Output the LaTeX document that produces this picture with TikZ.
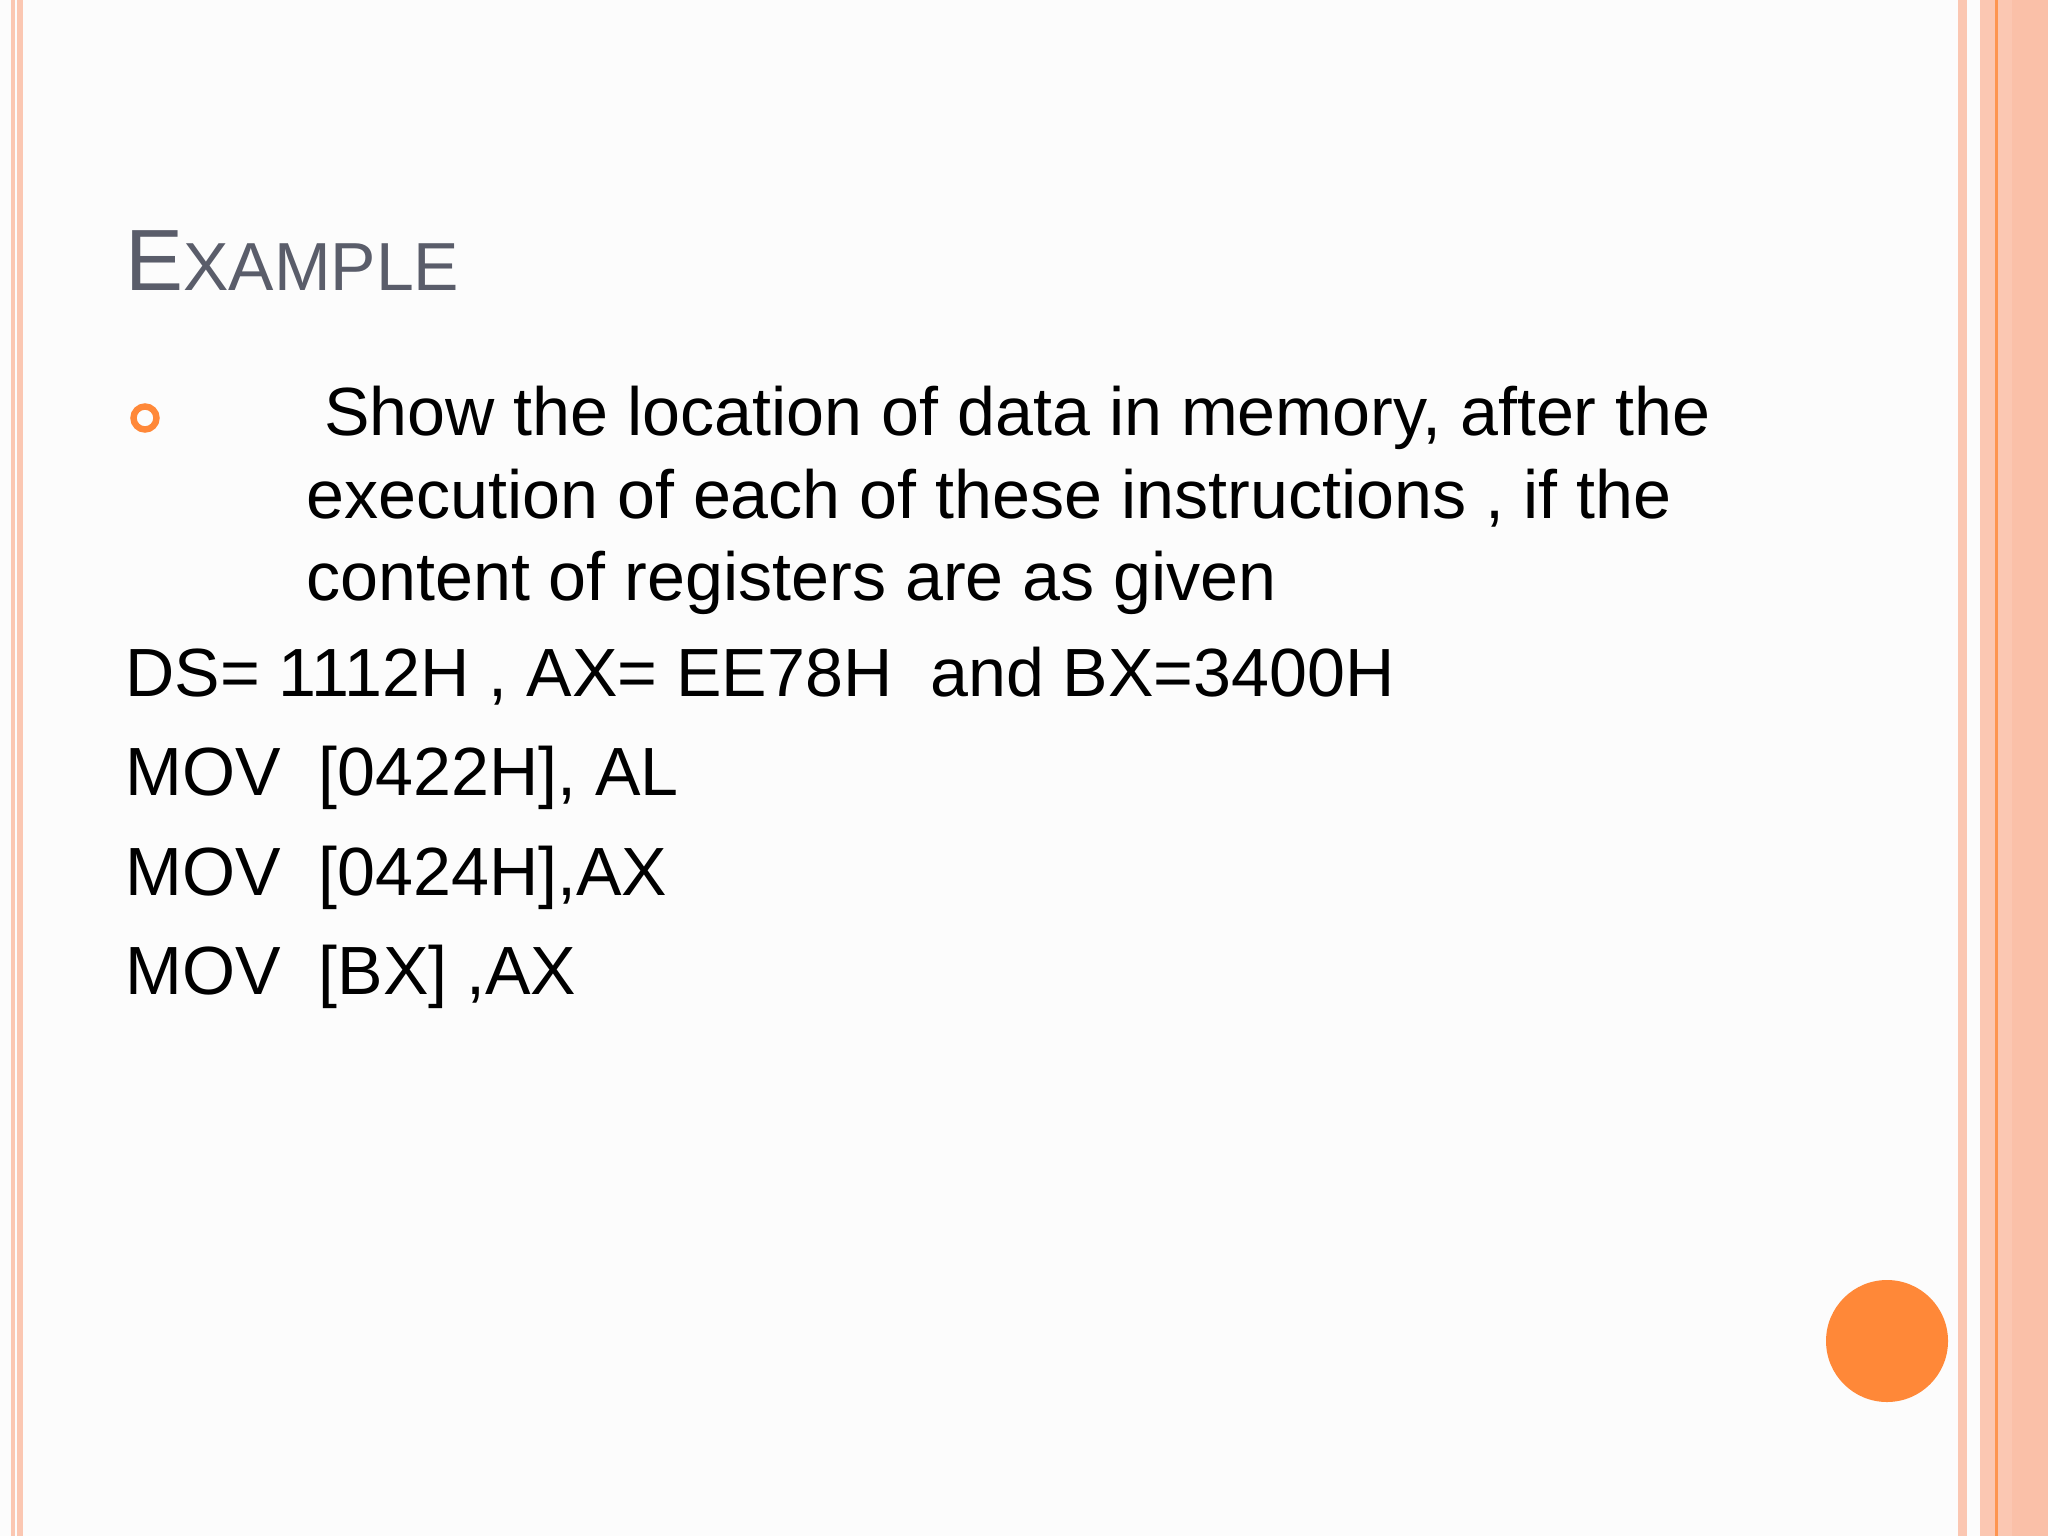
\documentclass[tikz,border=0pt]{standalone}
\usepackage{fontspec}
\setmainfont{Liberation Sans}
\definecolor{peach}{HTML}{FBC7B2}
\definecolor{peachd}{HTML}{FAC0A8}
\definecolor{orng}{HTML}{FF8838}
\definecolor{ttl}{HTML}{5A5D6A}
\begin{document}
\begin{tikzpicture}[x=0.5pt,y=-0.5pt,
  body/.style={anchor=base west,inner sep=0pt,font=\fontsize{34.1}{40}\selectfont,text=black}]
\useasboundingbox (0,0) rectangle (2048,1536);
\fill[white!98!gray] (0,0) rectangle (2048,1536);
\fill[peach] (11,0) rectangle (15,1536);
\fill[peach] (17,0) rectangle (23,1536);
\fill[peach] (1958,0) rectangle (1967,1536);
\fill[peach] (1980,0) rectangle (2048,1536);
\fill[peachd] (2012,0) rectangle (2048,1536);
\fill[orng!80!peach] (1995,0) rectangle (1997.5,1536);
\fill[orng] (1887,1341) circle (61);
\draw[orng,line width=3.2pt] (145,418) circle (11.5);
\node[anchor=base west,inner sep=0pt,text=ttl,font=\fontsize{43.5}{50}\selectfont] (title) at (125,290) {E{\fontsize{34}{40}\selectfont XAMPLE}};
\node[body] (l1) at (324,435) {Show the location of data in memory, after the};
\node[body] (l2) at (306,518) {execution of each of these instructions , if the};
\node[body] (l3) at (306,600) {content of registers are as given};
\node[body] (l4) at (125,696) {DS= 1112H , AX= EE78H\ \ and BX=3400H};
\node[body] (l5) at (125,795) {MOV\ \ [0422H], AL};
\node[body] (l6) at (125,895) {MOV\ \ [0424H],AX};
\node[body] (l7) at (125,994) {MOV\ \ [BX] ,AX};
\end{tikzpicture}
\end{document}
